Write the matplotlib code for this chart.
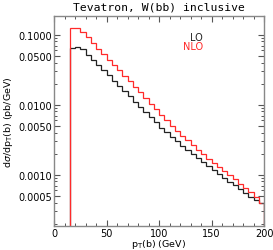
import matplotlib
matplotlib.use("Agg")
import matplotlib.pyplot as plt
from matplotlib.ticker import FixedLocator, LogLocator, MultipleLocator, NullFormatter, FixedFormatter
import numpy as np

bin_edges = [15 + 5 * i for i in range(38)]
nlo = [0.123, 0.123, 0.109, 0.0912, 0.0761, 0.0635, 0.0530, 0.0442, 0.0369, 0.0308,
       0.0257, 0.02145, 0.0179, 0.01494, 0.01247, 0.0104, 0.00868, 0.00724, 0.00604, 0.00496,
       0.00421, 0.00357, 0.00308, 0.00266, 0.00229, 0.001976, 0.001703, 0.001469, 0.001288, 0.001129,
       0.00099, 0.000854, 0.000736, 0.000646, 0.000557, 0.00048, 0.000394]
lo = [0.0639, 0.0657, 0.0615, 0.0518, 0.0437, 0.0368, 0.0310, 0.02613, 0.02203, 0.0185,
      0.01559, 0.01314, 0.01107, 0.00933, 0.00787, 0.00663, 0.00559, 0.00471, 0.00401, 0.00346,
      0.003, 0.0026, 0.00226, 0.001976, 0.00173, 0.001518, 0.00133, 0.001167, 0.001023, 0.000903,
      0.000797, 0.000704, 0.000621, 0.000548, 0.000483, 0.000438, 0.00039]
ytick_vals = [0.1, 0.05, 0.01, 0.005, 0.001, 0.0005]
ytick_labels = ["0.1000", "0.0500", "0.0100", "0.0050", "0.0010", "0.0005"]
xtick_vals = [0, 50, 100, 150, 200]

fig = plt.figure(figsize=(2.73, 2.51), dpi=100)
ax = fig.add_axes([54/273, 1 - 226.7/251, (264 - 54)/273, (226.7 - 16.7)/251])
ax.set_yscale('log')

ax.stairs(lo, bin_edges, baseline=1e-6, color='#222222', lw=0.9)
ax.stairs(nlo, bin_edges, baseline=1e-6, color='#ff2a2a', lw=0.9)

ax.set_xlim(0, 200)
ax.set_ylim(1.868e-4, 0.1868)

ax.xaxis.set_major_locator(FixedLocator(xtick_vals))
ax.xaxis.set_minor_locator(MultipleLocator(10))
ax.yaxis.set_major_locator(FixedLocator(ytick_vals))
ax.yaxis.set_major_formatter(FixedFormatter(ytick_labels))
ax.yaxis.set_minor_locator(LogLocator(base=10, subs=np.arange(2, 10)))
ax.yaxis.set_minor_formatter(NullFormatter())

ax.tick_params(which='both', direction='in', top=True, right=True, color='#555555',
               labelsize=7, pad=1.5)
ax.tick_params(which='major', length=4.5, width=0.8)
ax.tick_params(which='minor', length=2.3, width=0.7)
for s in ax.spines.values():
    s.set_color('#888888')
    s.set_linewidth(1.0)

fig.text(159/273, 1 - 245/251, r'p$_{\rm T}$(b) (GeV)', ha='center', va='center', fontsize=6.8)
ax.set_ylabel(r'd$\sigma$/dp$_{\rm T}$(b) (pb/GeV)', fontsize=6.8, labelpad=2)
fig.text(159/273, 1 - 8/251, 'Tevatron, W(bb) inclusive', ha='center', va='center',
         family='DejaVu Sans Mono', fontsize=8.2)

ax.text(0.71, 1 - (38 - 16.7)/210, 'LO', color='#222222', ha='right', va='center',
        fontsize=7, transform=ax.transAxes)
ax.text(0.71, 1 - (47.5 - 16.7)/210, 'NLO', color='#ff2a2a', ha='right', va='center',
        fontsize=7, transform=ax.transAxes)

fig.savefig('out.png', dpi=100)
